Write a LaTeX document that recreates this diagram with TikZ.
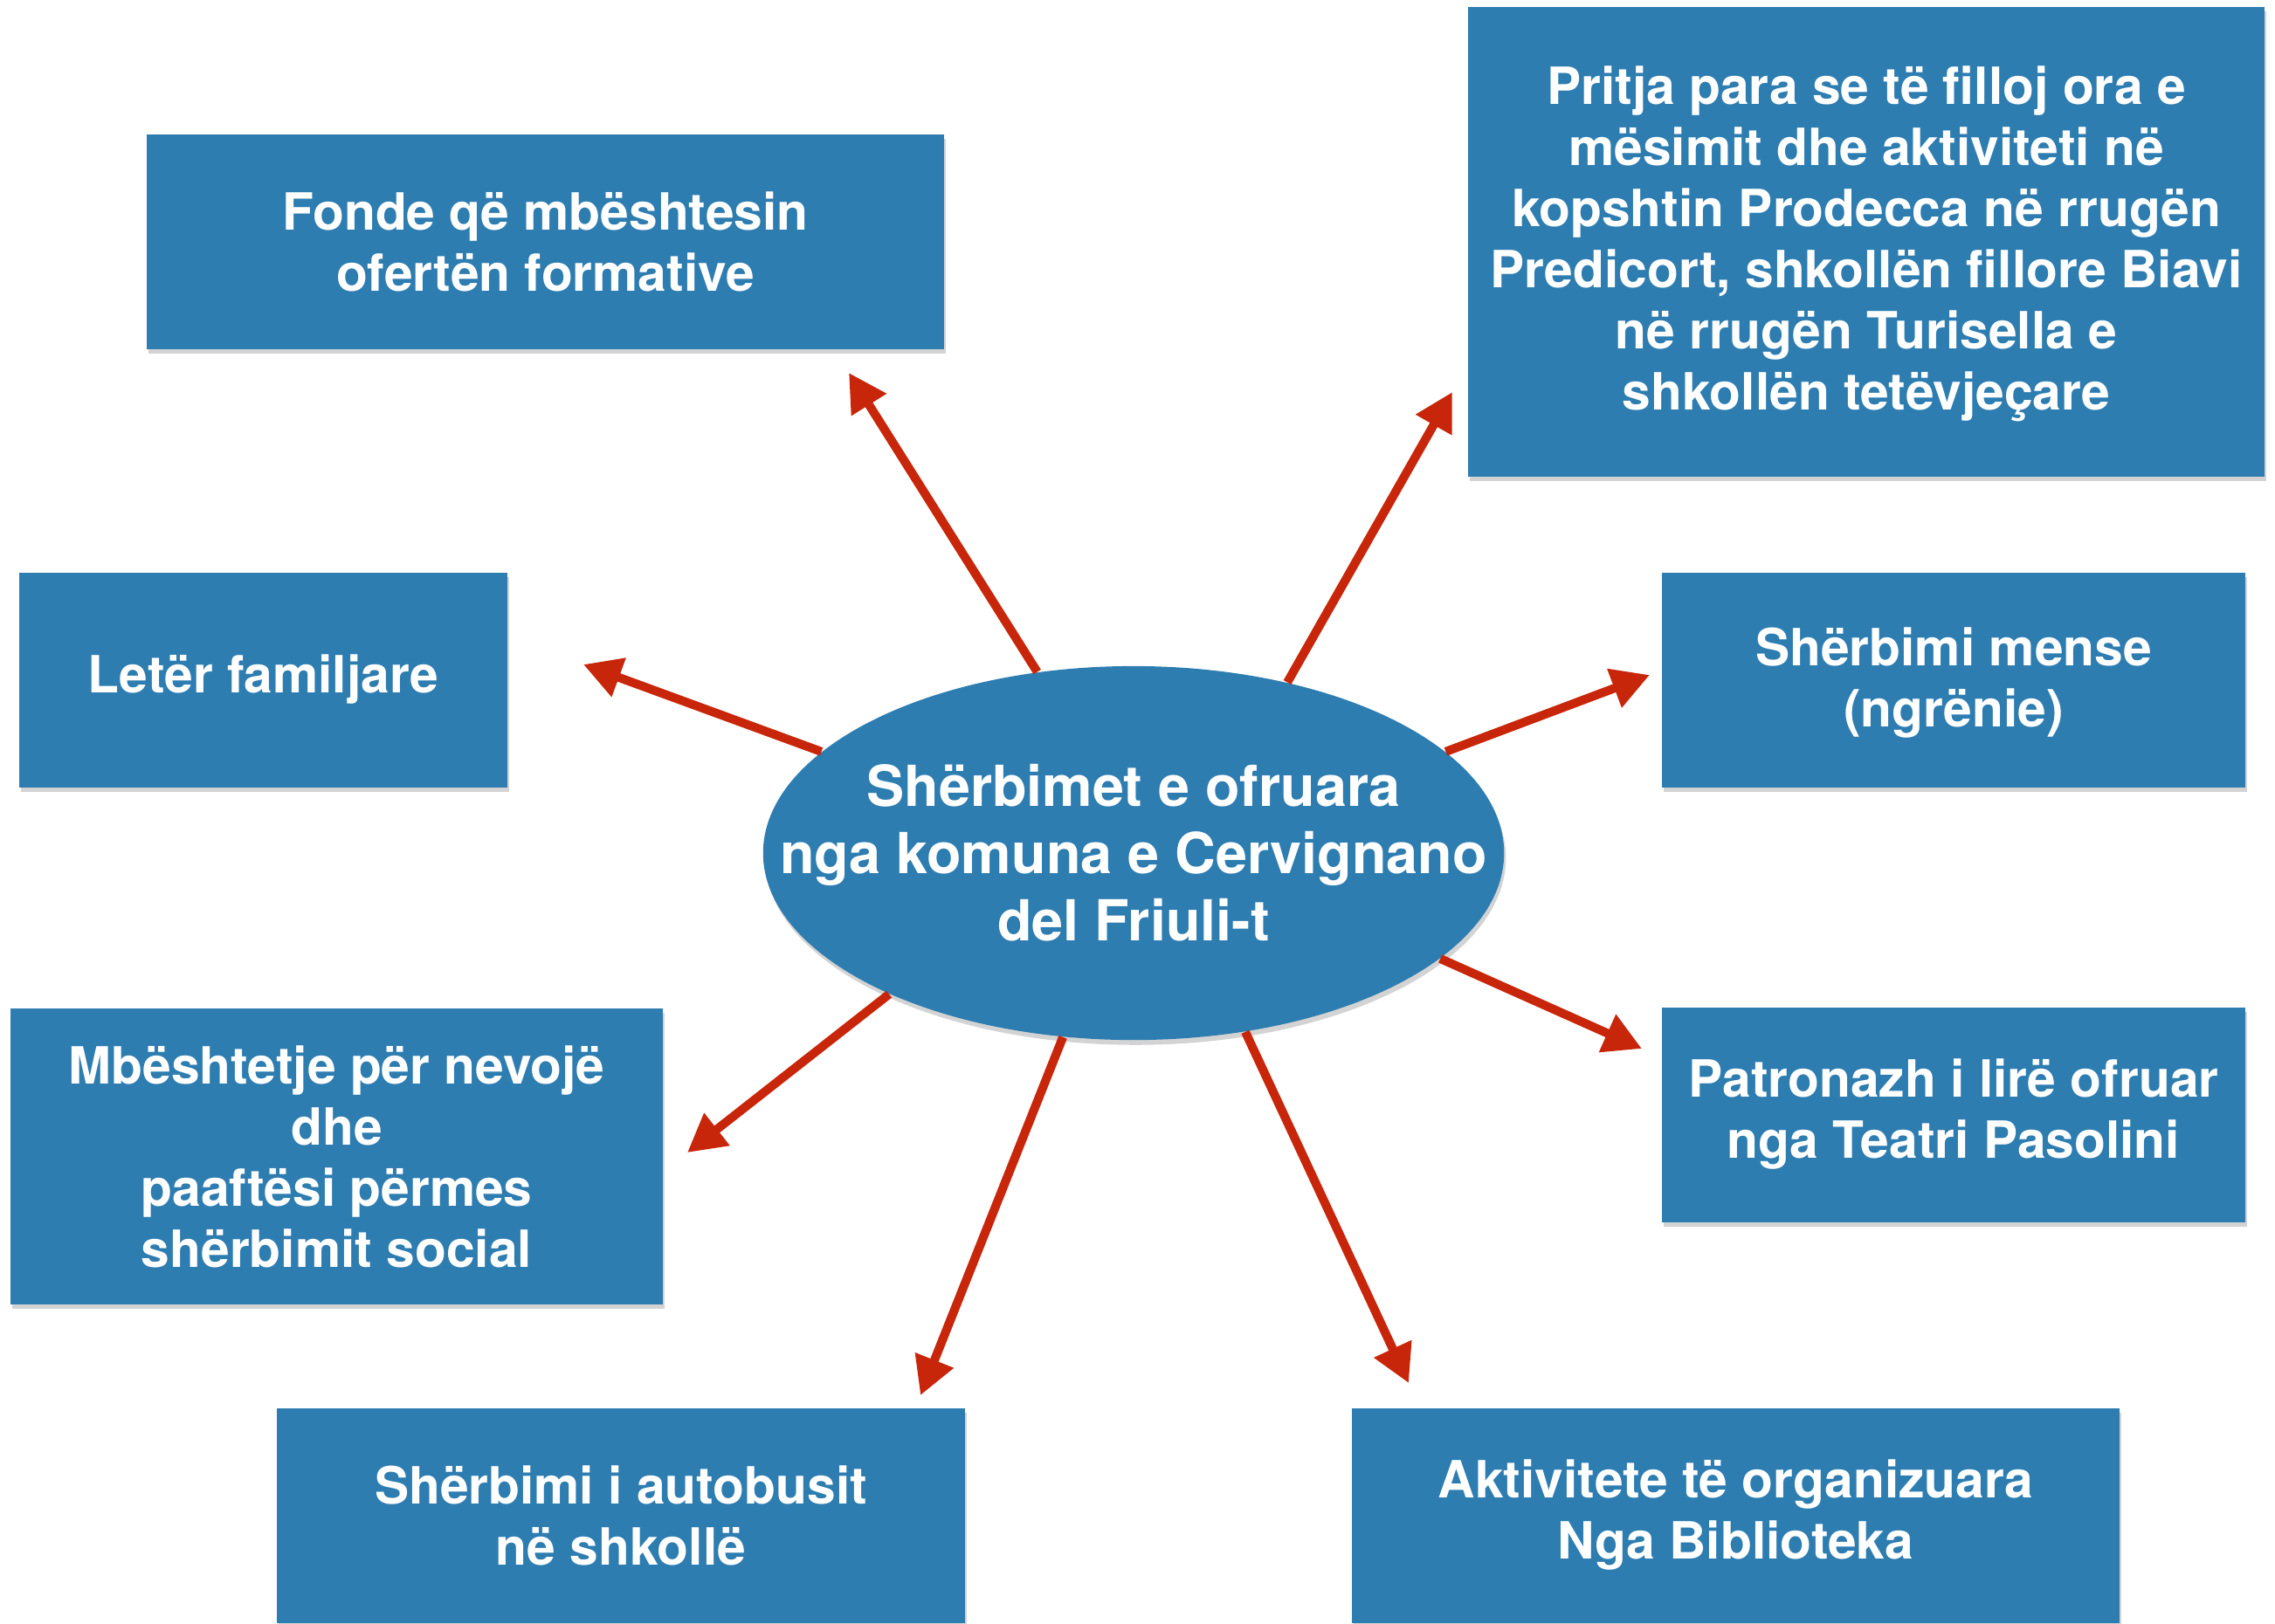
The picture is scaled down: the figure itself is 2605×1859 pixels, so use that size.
\documentclass[tikz,border=0pt]{standalone}
\usepackage{fontspec}
\setmainfont{TeX Gyre Heros}
\usetikzlibrary{arrows.meta,shapes.geometric,shadows}
\definecolor{tileblue}{HTML}{2E7DB1}
\definecolor{linkred}{HTML}{C8260A}
\begin{document}
\begin{tikzpicture}[x=0.01cm,y=-0.01cm,
  tile/.style={rectangle,fill=tileblue,text=white,align=center,inner sep=0pt,
    font=\bfseries\fontsize{16.7}{19.9}\selectfont,
    drop shadow={shadow xshift=0.6pt,shadow yshift=-1.4pt,opacity=0.35}},
  link/.style={linkred,line width=2.85pt,-{Triangle[length=12.3pt,width=12.8pt]}}]
\useasboundingbox (0,0) rectangle (2605,1859);
% boxes round the hub
\node [tile,minimum width=9.13cm,minimum height=2.46cm] (fonde) at (624.5,277)
  {Fonde që mbështesin\\ofertën formative};
\node [tile,minimum width=9.12cm,minimum height=5.38cm] (pritja) at (2137,277)
  {\strut Pritja para se të filloj ora e\\mësimit dhe aktiviteti në\\kopshtin Prodecca në rrugën\\Predicort, shkollën fillore Biavi\\në rrugën Turisella e\\shkollën tetëvjeçare};
\node [tile,minimum width=5.59cm,minimum height=2.46cm] (leter) at (301.5,779)
  {\strut Letër familjare};
\node [tile,minimum width=6.68cm,minimum height=2.46cm] (mense) at (2237,779)
  {\strut Shërbimi mense\\(ngrënie)};
\node [tile,minimum width=7.47cm,minimum height=3.38cm] (nevoje) at (385.5,1324.5)
  {Mbështetje për nevojë\\dhe\\paaftësi përmes\\shërbimit social};
\node [tile,minimum width=6.68cm,minimum height=2.46cm] (patronazh) at (2237,1277)
  {\strut Patronazh i lirë ofruar\\nga Teatri Pasolini\strut};
\node [tile,minimum width=7.88cm,minimum height=2.46cm] (autobus) at (711,1736)
  {Shërbimi i autobusit\\në shkollë};
\node [tile,minimum width=8.79cm,minimum height=2.46cm] (biblioteka) at (1987.5,1736)
  {\strut Aktivitete të organizuara\\Nga Biblioteka\strut};
% tips of the arrows
\coordinate (t1) at (972,427);
\coordinate (t2) at (1663,449);
\coordinate (t3) at (668,761);
\coordinate (t4) at (1889,773);
\coordinate (t5) at (787,1320);
\coordinate (t6) at (1880,1201);
\coordinate (t7) at (1054,1598);
\coordinate (t8) at (1613,1584);
% the hub
\node [ellipse,fill=tileblue,inner sep=0pt,minimum width=8.48cm,minimum height=4.28cm,
  drop shadow={shadow xshift=0.6pt,shadow yshift=-1.6pt,opacity=0.35},
  label={[text=white,align=center,font=\bfseries\fontsize{18.4}{21.9}\selectfont]center:Shërbimet e ofruara\\nga komuna e Cervignano\\del Friuli-t}]
  (hub) at (1298,977) {};
\draw [link] (hub.118.7) -- (t1);
\draw [link] (hub.48.4) -- (t2);
\draw [link] (hub.162.8) -- (t3);
\draw [link] (hub.18.1) -- (t4);
\draw [link] (hub.210.5) -- (t5);
\draw [link] (hub.341.8) -- (t6);
\draw [link] (hub.249.6) -- (t7);
\draw [link] (hub.302.4) -- (t8);
\end{tikzpicture}
\end{document}
